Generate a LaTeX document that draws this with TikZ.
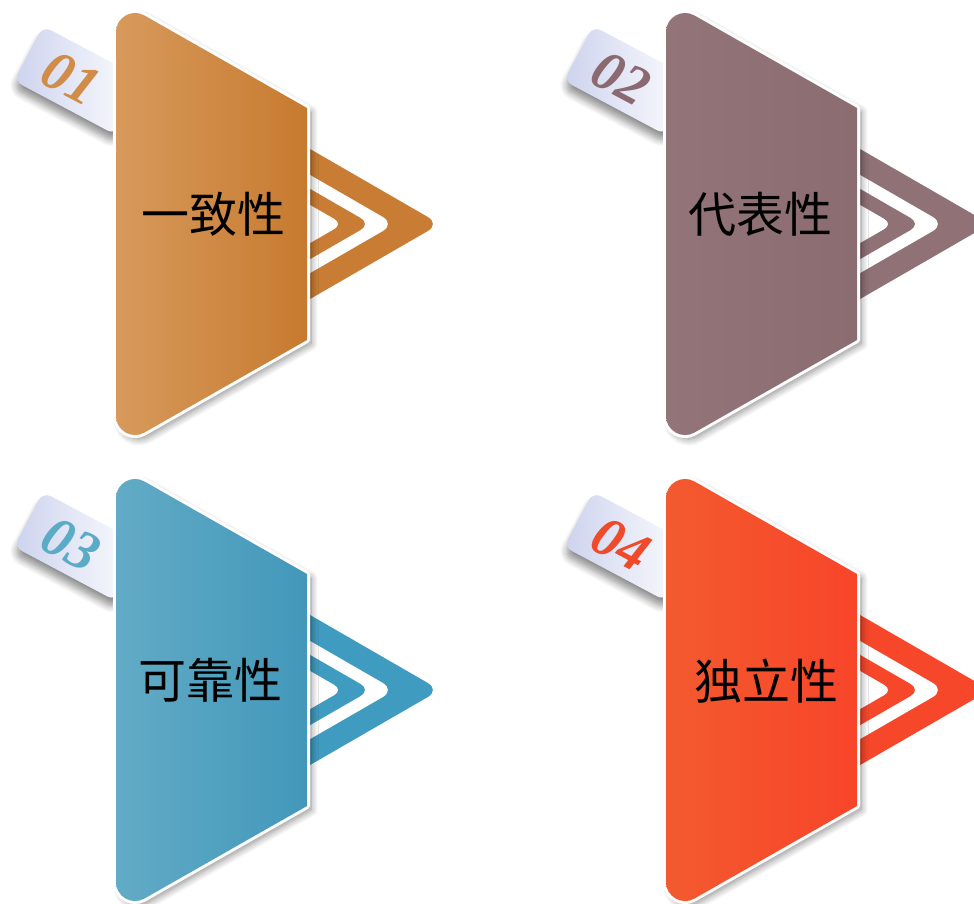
\documentclass[tikz,border=0pt]{standalone}
\usepackage{fontspec}
\newfontfamily\cjk{Noto Sans CJK SC}
\newfontfamily\numfont{Liberation Serif}
\usetikzlibrary{shadows.blur}
\definecolor{o1L}{HTML}{D79A5C}\definecolor{o1R}{HTML}{C77A2F}\definecolor{o1C}{HTML}{C97D34}\definecolor{o1N}{HTML}{D08C48}
\definecolor{m2L}{HTML}{937478}\definecolor{m2R}{HTML}{8B6C71}\definecolor{m2C}{HTML}{8F7176}\definecolor{m2N}{HTML}{8A6A70}
\definecolor{b3L}{HTML}{62ABC6}\definecolor{b3R}{HTML}{4298BA}\definecolor{b3C}{HTML}{3F9BBF}\definecolor{b3N}{HTML}{5AABC6}
\definecolor{r4L}{HTML}{F35A2E}\definecolor{r4R}{HTML}{F8452A}\definecolor{r4C}{HTML}{F7472B}\definecolor{r4N}{HTML}{F04A2A}
\definecolor{taglav}{HTML}{CDD3EE}
\tikzset{
  numtxt/.style={transform shape, inner sep=0pt, font=\numfont\bfseries\itshape\fontsize{56}{56}\selectfont},
  maintxt/.style={inner sep=0pt, font=\cjk\fontsize{48}{48}\selectfont, text=black},
  mainshadow/.style={blur shadow={shadow xshift=4pt, shadow yshift=-4pt, shadow blur radius=7pt, shadow blur steps=10, shadow opacity=45}},
  tagshadow/.style={blur shadow={shadow xshift=0pt, shadow yshift=-8pt, shadow blur radius=7pt, shadow blur steps=8, shadow opacity=45}}
}
% #1 dx, #2 dy, #3 colour prefix, #4 number, #5 text, #6 text x, #7 text y, #8 node-name suffix
\newcommand\drawunit[8]{%
\begin{scope}[shift={(#1,#2)}]
  % chevron
  \fill[#3C, rounded corners=14] (290,137.4) -- (440,224) -- (290,310.6) -- cycle;
  \fill[white, rounded corners=14] (290,163.4) -- (395,224) -- (290,284.6) -- cycle;
  \fill[#3C, rounded corners=12] (290,177.3) -- (371,224) -- (290,270.7) -- cycle;
  \fill[white, rounded corners=10] (290,193.4) -- (343,224) -- (290,254.6) -- cycle;
  % tag
  \begin{scope}[shift={(43,26)}, rotate=-28]
    \path[tagshadow, left color=taglav, right color=white, rounded corners=9] (0,0) rectangle (115,62);
    \node[numtxt, text=#3N] (n#8) at (49,33) {#4};
  \end{scope}
  % main shape
  \path[mainshadow, fill=white, draw=white, line width=6pt, line join=round]
    (116,32) .. controls (116,17.4) and (131.9,8.2) .. (144.5,15.5) -- (307,108) -- (307,340)
    -- (144.5,432.5) .. controls (131.9,439.8) and (116,430.6) .. (116,416) -- cycle;
  \shade[left color=#3L, right color=#3R]
    (116,32) .. controls (116,17.4) and (131.9,8.2) .. (144.5,15.5) -- (307,108) -- (307,340)
    -- (144.5,432.5) .. controls (131.9,439.8) and (116,430.6) .. (116,416) -- cycle;
  \node[maintxt] (t#8) at (#6,#7) {#5};
\end{scope}}
\begin{document}
\begin{tikzpicture}[x=1pt,y=-1pt]
\useasboundingbox (0,0) rectangle (974,903);
\clip (0,0) rectangle (974,903);
\drawunit{0}{0}{o1}{01}{一致性}{213}{214}{a}
\drawunit{550}{0}{m2}{02}{代表性}{210}{214}{b}
\drawunit{0}{466}{b3}{03}{可靠性}{210}{214}{c}
\drawunit{550}{466}{r4}{04}{独立性}{216}{215}{d}
\end{tikzpicture}
\end{document}
